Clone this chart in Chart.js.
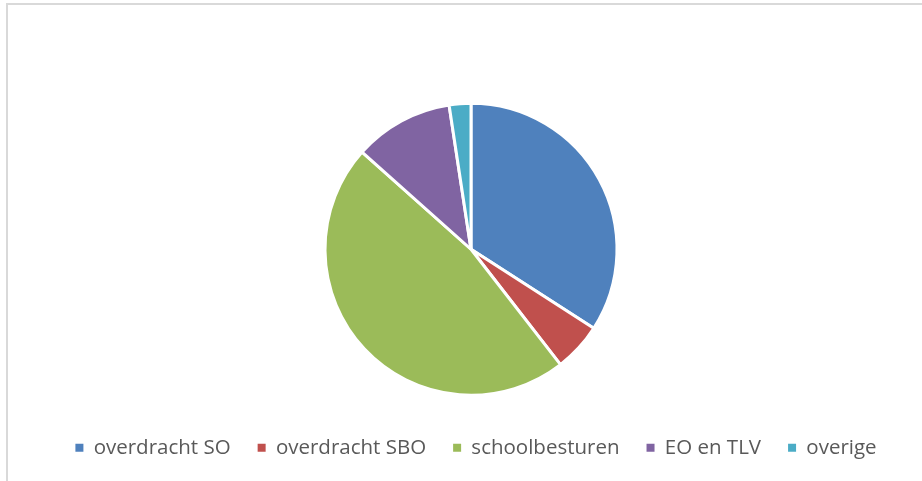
<!DOCTYPE html>
<html><head><meta charset="utf-8">
<script src="https://cdn.jsdelivr.net/npm/chart.js@4/dist/chart.umd.min.js"></script>
<style>
html,body{margin:0;padding:0;background:#fff;overflow:hidden;}
#frame{position:absolute;left:6px;top:3px;width:1000px;height:600px;border-left:2px solid #d9d9d9;border-top:2px solid #d9d9d9;box-sizing:border-box;}
#wrap{position:absolute;left:0;top:0;width:922px;height:481px;}
</style></head>
<body>
<div id="frame"></div>
<div id="wrap"><canvas id="c" width="922" height="481"></canvas></div>
<script>
const categories = ["overdracht SO", "overdracht SBO", "schoolbesturen", "EO en TLV", "overige"];
const values = [34.1, 5.4, 47.1, 11.0, 2.4];
const colors = ["#4F81BD", "#C0504D", "#9BBB59", "#8064A2", "#4BACC6"];

const shiftLegend = {
  id: 'shiftLegend',
  afterLayout(chart) {
    if (chart.legend) { chart.legend.left += 5; chart.legend.right += 5; }
  }
};

new Chart(document.getElementById('c'), {
  type: 'pie',
  data: { labels: categories, datasets: [{ data: values, backgroundColor: colors, borderColor: '#ffffff', borderWidth: 3 }] },
  plugins: [shiftLegend],
  options: {
    responsive: false, animation: false,
    radius: 146,
    layout: { padding: { top: 88, bottom: 13, left: 20, right: 0 } },
    plugins: {
      tooltip: { enabled: false },
      legend: {
        position: 'bottom',
        labels: {
          boxWidth: 8, boxHeight: 8, padding: 27, color: '#595959',
          font: { family: 'Open Sans', size: 20.5 },
          generateLabels(chart) {
            return categories.map((t, i) => ({
              text: t, fillStyle: colors[i], strokeStyle: colors[i], lineWidth: 0,
              fontColor: '#595959', hidden: false, index: i
            }));
          }
        }
      }
    }
  }
});
</script>
</body></html>
